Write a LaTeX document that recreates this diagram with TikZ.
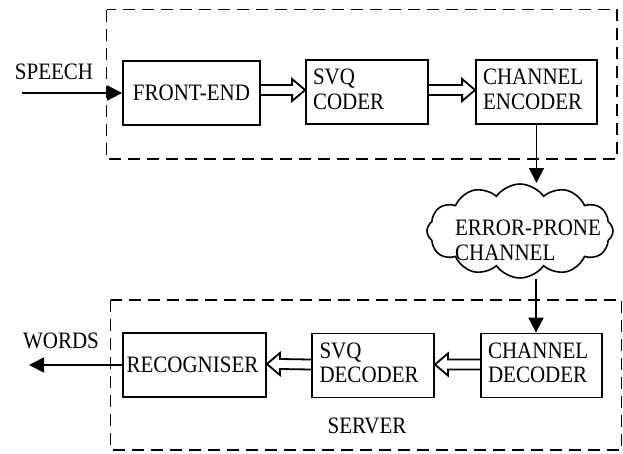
\documentclass[tikz,border=0pt]{standalone}
\usepackage{fontspec}
\usepackage{graphicx}
\setmainfont{Liberation Serif}
\usetikzlibrary{shapes.symbols,arrows.meta,calc}
\newcommand\tl[1]{\scalebox{1}[1.12]{\begin{tabular}{@{}l@{}}#1\end{tabular}}}
\newcommand\st[1]{\scalebox{1}[1.12]{#1}}
\begin{document}
\begin{tikzpicture}[x=1pt,y=-1pt,
  font=\fontsize{21}{22.3}\selectfont,
  blk/.style={draw, line width=1.8pt, minimum height=64pt, inner sep=0pt},
  blk2/.style={blk, align=left, inner xsep=7pt, text width=#1},
  grp/.style={draw, dash pattern=on 12pt off 7pt, line width=1.4pt},
  sarr/.style={line width=1.8pt, -{Triangle[length=15pt,width=15pt]}},
  dbl/.style={line width=1.8pt, line join=miter, to path={let \p1=(\tikztostart), \p2=(\tikztotarget), \n1={sign(\x2-\x1)} in (\x1,\y1+5pt) -- (\x2-13pt*\n1,\y2+5pt) -- (\x2-13pt*\n1,\y2+11pt) -- (\x2,\y2) -- (\x2-13pt*\n1,\y2-11pt) -- (\x2-13pt*\n1,\y2-5pt) -- (\x1,\y1-5pt)}},
]
\useasboundingbox (0,0) rectangle (623,453);
\draw[grp] (106.5,9.5) rectangle (617,159);
\draw[grp] (110.5,300) rectangle (621.5,450);

\node[blk, minimum width=137pt] (fe) at (191.5,93) {\raisebox{-6pt}{\st{FRONT-END}}};
\node[blk2=108pt] (svq) at (367,92) {\tl{SVQ\\CODER}};
\node[blk2=107pt] (ce) at (536.5,92) {\tl{CHANNEL\\ENCODER}};
\node[blk, minimum width=143pt] (rec) at (194.5,365) {\hspace*{-4pt}\raisebox{-7pt}{\st{RECOGNISER}}};
\node[blk2=107pt, inner xsep=7.5pt] (sd) at (373,365.5) {\tl{SVQ\\DECODER}};
\node[blk2=107pt] (cd) at (541.5,365.5) {\tl{CHANNEL\\DECODER}};

\node[cloud, draw, line width=1.6pt, cloud puffs=12, cloud puff arc=110, aspect=1.95, minimum width=186pt, minimum height=94pt, inner sep=0pt] (cl) at (520,231) {};
\node[align=left, anchor=center, inner sep=0pt] (clt) at (528,243) {\tl{ERROR-PRONE\\CHANNEL}};

\coordinate (c1) at (536.5,183);
\draw[sarr] (ce.south) -- (c1);
\coordinate (c2) at (536,279);
\draw[sarr] (c2) -- (c2 |- cd.north);
\coordinate (sp) at (22,93);
\draw[sarr] (sp) -- (fe.west);
\coordinate (wd) at (29,365);
\draw[sarr] (rec.west) -- (wd);

\draw[dbl] ($(fe.east)+(0,-3)$) to ($(svq.west)+(0,-2)$);
\draw[dbl] ($(svq.east)+(0,-2)$) to ($(ce.west)+(0,-2)$);
\draw[dbl] ($(cd.west)+(0,-1)$) to ($(sd.east)+(0,-1)$);
\draw[dbl] ($(sd.west)+(0,-1)$) to ($(rec.east)+(0,-1)$);

\node[anchor=base] (speech) at (54,79) {\st{SPEECH}};
\node[anchor=base] (words) at (61,348) {\st{WORDS}};
\node[anchor=base] (server) at (367,433) {\st{SERVER}};
\end{tikzpicture}
\end{document}
